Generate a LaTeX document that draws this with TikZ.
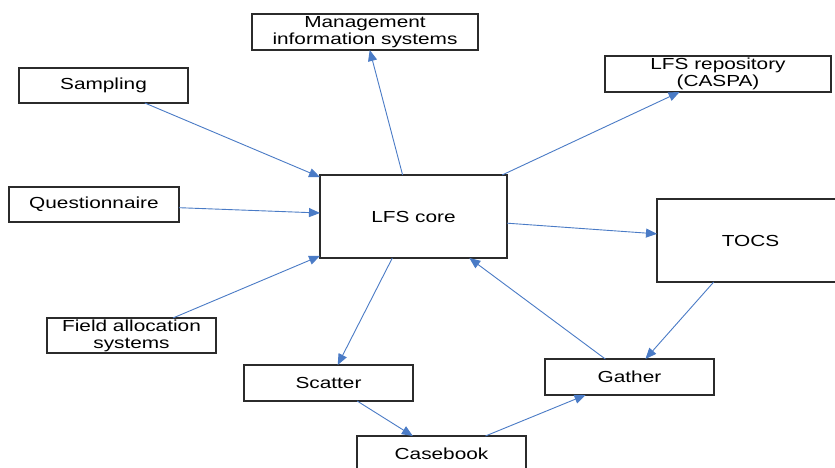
\documentclass[tikz,border=0pt]{standalone}
\usepackage{fontspec}
\setmainfont{Liberation Sans}[FakeStretch=1.3]
\usetikzlibrary{arrows.meta}
\definecolor{flowblue}{HTML}{4A7BC6}
\definecolor{boxline}{HTML}{2B2B2B}
\begin{document}
\begin{tikzpicture}[x=1pt,y=-1pt,
  box/.style={draw=boxline,line width=1.2pt,fill=white,inner sep=0pt,outer sep=0pt,
    align=center,font=\fontsize{16}{17}\selectfont},
  flow/.style={draw=flowblue,line width=0.9pt,-{Triangle[length=11pt,width=9pt]}}]
\clip (0,0) rectangle (835,467);
\fill[white] (0,0) rectangle (835,467);

% system boxes
\node[box,minimum width=187pt,minimum height=83pt] (core) at (413.5,216.5) {LFS core};
\node[box,minimum width=226pt,minimum height=36pt] (mis) at (365,32) {Management\\information systems};
\node[box,minimum width=169pt,minimum height=35pt] (samp) at (103.5,85.5) {Sampling};
\node[box,minimum width=170pt,minimum height=35pt] (quest) at (94,204.5) {Questionnaire};
\node[box,minimum width=169pt,minimum height=35pt] (field) at (131.5,335.5) {Field allocation\\systems};
\node[box,minimum width=226pt,minimum height=36pt] (repo) at (718,74) {LFS repository\\(CASPA)};
\node[box,minimum width=187pt,minimum height=83pt] (tocs) at (750.5,240.5) {TOCS};
\node[box,minimum width=169pt,minimum height=36pt] (scatter) at (328.5,383) {Scatter};
\node[box,minimum width=169pt,minimum height=36pt] (gather) at (629.5,377) {Gather};
\node[box,minimum width=169pt,minimum height=36pt] (casebook) at (441.5,454) {Casebook};

% data flows
\draw[flow] (samp) -- (core);
\draw[flow] (quest) -- (core);
\draw[flow] (field) -- (core);
\draw[flow] (core) -- (mis);
\draw[flow] (core) -- (repo);
\draw[flow] (core) -- (tocs);
\draw[flow] (core) -- (scatter);
\draw[flow] (gather) -- (core);
\draw[flow] (tocs) -- (gather);
\draw[flow] (scatter) -- (casebook);
\draw[flow] (casebook) -- (gather);
\end{tikzpicture}
\end{document}
